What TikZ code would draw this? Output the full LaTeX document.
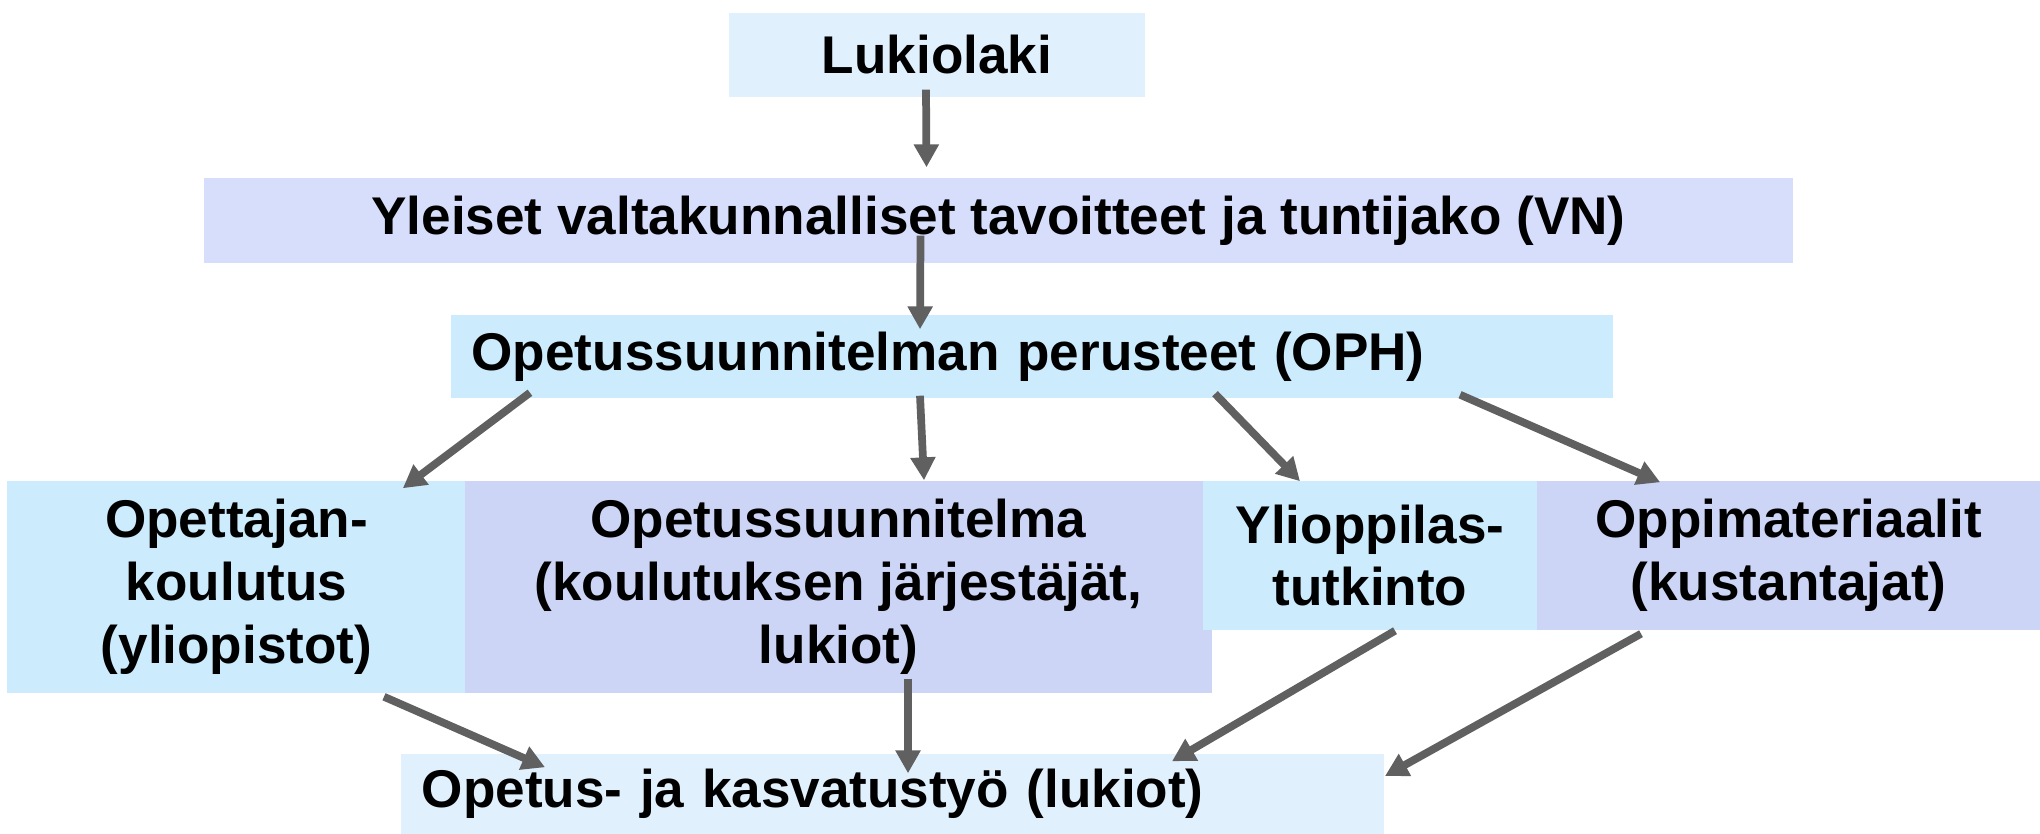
\documentclass[tikz,border=0pt]{standalone}
\usepackage{fontspec}
\setmainfont{Liberation Sans}
\usetikzlibrary{arrows.meta,calc}

\definecolor{paleblue}{HTML}{E1F0FD}
\definecolor{lavender}{HTML}{D7DEFC}
\definecolor{skyblue}{HTML}{CCEBFD}
\definecolor{bluegray}{HTML}{CCD5F5}
\definecolor{arrowgray}{HTML}{606060}

\begin{document}
\begin{tikzpicture}[x=0.01cm,y=-0.01cm,
  box/.style={rectangle,inner sep=0pt,align=center,
    font=\fontsize{15.1}{17.9}\selectfont\bfseries},
  lbox/.style={box,inner xsep=0.21cm,align=left},
  arr/.style={draw=arrowgray,line width=2.2pt,-{Triangle[width=6.8pt,length=6.5pt]}}]
  \useasboundingbox (0,0) rectangle (2040,834);
  \node[box,fill=paleblue,minimum width=4.16cm,minimum height=0.84cm] (luki) at (937,55) {Lukiolaki};
  \node[box,fill=lavender,minimum width=15.89cm,minimum height=0.85cm] (yleiset) at (998.5,220.5)
    {Yleiset valtakunnalliset tavoitteet ja tuntijako (VN)};
  \node[lbox,fill=skyblue,text width=11.20cm,minimum height=0.83cm] (oph) at (1032,356.5)
    {Opetussuunnitelman perusteet (OPH)};
  \node[box,fill=skyblue,minimum width=4.59cm,minimum height=2.12cm] (opekoul) at (236.5,587)
    {Opettajan-\\koulutus\\(yliopistot)};
  \node[box,fill=bluegray,minimum width=7.46cm,minimum height=2.12cm] (ops) at (838.5,587)
    {Opetussuunnitelma\\(koulutuksen järjestäjät,\\lukiot)};
  \node[box,fill=skyblue,minimum width=3.34cm,minimum height=1.49cm] (yo) at (1370,555.5)
    {Ylioppilas-\\tutkinto};
  \node[box,fill=bluegray,minimum width=5.03cm,minimum height=1.49cm] (oppimat) at (1788.5,555.5)
    {Oppimateriaalit\\(kustantajat)};
  \node[lbox,fill=paleblue,text width=9.41cm,minimum height=0.80cm] (opetus) at (892.5,794)
    {Opetus- ja kasvatustyö (lukiot)};

  \draw[arr] ($(luki.south)+(-11,-8)$) -- ($(yleiset.north)+(-72,-10)$);
  \draw[arr] ($(yleiset.south)+(-78,-28)$) -- ($(oph.north)+(-112,15)$);
  \draw[arr] ($(oph.south west)+(80,-6)$) -- ($(opekoul.north east)+(-64,8)$);
  \draw[arr] ($(oph.south)+(-112,-3)$) -- ($(ops.north)+(85.5,0)$);
  \draw[arr] ($(oph.south)+(183,-5)$) -- ($(yo.north)+(-70,1)$);
  \draw[arr] ($(oph.south east)+(-154,-4)$) -- ($(oppimat.north west)+(124,2)$);
  \draw[arr] ($(opekoul.south)+(147.5,3)$) -- ($(opetus.north west)+(145,14)$);
  \draw[arr] ($(ops.south)+(69.5,-15)$) -- ($(opetus.north)+(15.5,20)$);
  \draw[arr] ($(yo.south)+(25,0)$) -- ($(opetus.north east)+(-213,8)$);
  \draw[arr] ($(oppimat.south)+(-147.5,3)$) -- ($(opetus.east)+(0,-18)$);
\end{tikzpicture}
\end{document}
